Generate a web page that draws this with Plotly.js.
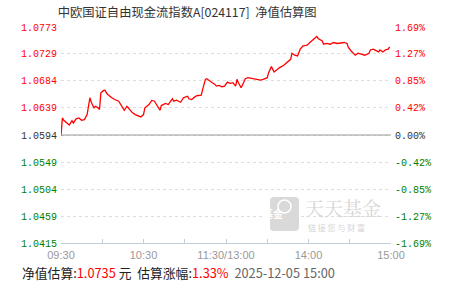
<!DOCTYPE html>
<html>
<head>
<meta charset="utf-8">
<script src="https://cdn.plot.ly/plotly-3.0.1.min.js"></script>
<style>
html,body{margin:0;padding:0;background:#fff;}
#chart{width:451px;height:281px;}
</style>
</head>
<body>
<div id="chart"></div>
<script>
// ---- data ----
const minutes = [0,1,2,4,6,8,9,11,13,15,17,19,20,21,22,24,25,27,28,29,31,32,33,34,37,39,42,44,46,48,50,52,54,56,58,60,61,64,66,68,70,72,73,76,78,81,82,84,87,89,92,93,95,98,100,102,103,105,106,108,110,112,113,115,117,119,121,123,125,127,128,129,131,133,134,136,139,141,145,147,150,151,153,155,157,159,162,164,167,168,170,172,174,176,179,181,184,186,187,190,191,193,196,198,201,203,206,208,209,211,213,214,216,219,221,224,225,227,230,231,232,234,236,238,239];
const nav = [1.05928,1.06223,1.06183,1.06140,1.06107,1.06178,1.06140,1.06207,1.06223,1.06183,1.06195,1.06278,1.06390,1.06557,1.06483,1.06390,1.06417,1.06390,1.06362,1.06640,1.06678,1.06683,1.06640,1.06612,1.06557,1.06528,1.06500,1.06417,1.06350,1.06417,1.06362,1.06307,1.06278,1.06262,1.06240,1.06278,1.06390,1.06445,1.06512,1.06500,1.06417,1.06350,1.06428,1.06462,1.06445,1.06540,1.06500,1.06517,1.06483,1.06557,1.06583,1.06540,1.06528,1.06583,1.06595,1.06600,1.06695,1.06862,1.06873,1.06833,1.06807,1.06778,1.06750,1.06762,1.06740,1.06750,1.06817,1.06795,1.06807,1.06750,1.06862,1.06807,1.06723,1.06817,1.06873,1.06890,1.06873,1.06862,1.06850,1.06862,1.06890,1.06973,1.07073,1.06983,1.07028,1.07057,1.07095,1.07140,1.07195,1.07295,1.07262,1.07250,1.07362,1.07417,1.07428,1.07473,1.07528,1.07573,1.07540,1.07500,1.07445,1.07457,1.07445,1.07473,1.07457,1.07462,1.07473,1.07457,1.07390,1.07333,1.07295,1.07262,1.07295,1.07278,1.07262,1.07295,1.07350,1.07362,1.07333,1.07317,1.07350,1.07317,1.07350,1.07362,1.07400];
const baseNav = 1.0594;
const navTicks = ['1.0773','1.0729','1.0684','1.0639','1.0594','1.0549','1.0504','1.0459','1.0415'];
const pctTicks = ['1.69%','1.27%','0.85%','0.42%','0.00%','-0.42%','-0.85%','-1.27%','-1.69%'];
const timeTickVals = [0,30,60,90,120,150,180,210,240];
const timeTickText = ['09:30','','10:30','','11:30/13:00','','14:00','','15:00'];
const estNav = '1.0735';
const estPct = '1.33%';
const stamp = '2025-12-05 15:00';
const titleText = '中欧国证自由现金流指数A[024117]\u00a0\u00a0净值估算图';

// ---- styling ----
const RED = '#ff0000', GREEN = '#008000', DARK = '#333333';
function colorFor(i){ const v = parseFloat(navTicks[i]); return v > baseNav ? RED : (v < baseNav ? GREEN : DARK); }
const navVals = navTicks.map(parseFloat);
const navText = navTicks.map((t,i)=>'<span style="color:'+colorFor(i)+'">'+t+'</span>');
const pctVals = navVals.map(v => (v/baseNav - 1)*100);
const pctText = pctTicks.map((t,i)=>'<span style="color:'+colorFor(i)+'">'+t+'</span>');

const trace = {
  x: minutes, y: nav, type: 'scatter', mode: 'lines',
  line: {color: RED, width: 1.3}, hoverinfo: 'skip', showlegend: false
};
const dummy = {x:[0], y:[0], yaxis:'y2', type:'scatter', mode:'markers', marker:{opacity:0}, hoverinfo:'skip', showlegend:false};

const px = v => (v-61)/330;     // pixel x -> paper
const py = v => (243-v)/216;    // pixel y -> paper

const layout = {
  width: 451, height: 281,
  margin: {l: 61, r: 60, t: 27, b: 38, pad: 0},
  paper_bgcolor: '#fff', plot_bgcolor: '#fff',
  font: {family: 'Liberation Mono, DejaVu Sans Mono, monospace', size: 10},
  showlegend: false,
  title: {text: titleText, x: 0.415, xanchor: 'center', y: 0.955, yanchor: 'middle',
          font: {family: 'Noto Sans CJK SC, sans-serif', size: 12.3, color: '#333'}},
  xaxis: {
    range: [0, 240], fixedrange: true,
    tickvals: timeTickVals, ticktext: timeTickText,
    ticks: 'inside', ticklen: 4, tickcolor: '#c3cedb', tickwidth: 1,
    showline: true, linecolor: '#c3cedb', linewidth: 1,
    showgrid: false, zeroline: false,
    tickfont: {family: 'Liberation Sans, Arial, sans-serif', size: 11, color: '#999'},
    ticklabelstandoff: 2
  },
  yaxis: {
    range: [navVals[8], navVals[0]], fixedrange: true,
    tickvals: navVals, ticktext: navText,
    showgrid: true, gridcolor: '#dddddd', gridwidth: 1, griddash: 'dot',
    zeroline: false, showline: false, ticks: '',
    tickfont: {family: 'Liberation Mono, monospace', size: 10},
    ticklabelstandoff: 3
  },
  yaxis2: {
    overlaying: 'y', side: 'right',
    range: [pctVals[8], pctVals[0]], fixedrange: true,
    tickvals: pctVals, ticktext: pctText,
    showgrid: false, zeroline: false, showline: false, ticks: '',
    tickfont: {family: 'Liberation Mono, monospace', size: 10},
    ticklabelstandoff: 3
  },
  shapes: [
    {type:'line', xref:'paper', yref:'y', x0:0, x1:1, y0:baseNav, y1:baseNav, line:{color:'#999', width:1.2}},
    // watermark logo
    {type:'path', xref:'paper', yref:'paper',
     path: 'M '+px(274)+' '+py(197)+' L '+px(295)+' '+py(197)+' Q '+px(299)+' '+py(197)+' '+px(299)+' '+py(201)+
           ' L '+px(299)+' '+py(227)+' Q '+px(299)+' '+py(231)+' '+px(295)+' '+py(231)+
           ' L '+px(274)+' '+py(231)+' Q '+px(270)+' '+py(231)+' '+px(270)+' '+py(227)+
           ' L '+px(270)+' '+py(201)+' Q '+px(270)+' '+py(197)+' '+px(274)+' '+py(197)+' Z',
     fillcolor:'#d9d9d9', line:{width:0}, layer:'below'},
    {type:'circle', xref:'paper', yref:'paper', x0:px(278), x1:px(291), y0:py(213), y1:py(200),
     fillcolor:'rgba(0,0,0,0)', line:{color:'#ffffff', width:1.5}, layer:'below'}
  ],
  annotations: [
    {xref:'paper', yref:'paper', x:px(284.5), y:py(223), text:'<b>基金</b>', showarrow:false,
     font:{family:'Noto Sans CJK SC', size:10, color:'#ffffff'}},
    {xref:'paper', yref:'paper', x:px(303), xanchor:'left', y:py(207), yanchor:'middle', text:'天天基金', showarrow:false,
     font:{family:'Noto Serif CJK SC, Noto Sans CJK SC', size:19, color:'#d6d6d6'}},
    {xref:'paper', yref:'paper', x:px(306), xanchor:'left', y:py(227), yanchor:'middle', text:'链 接 您 与 财 富', showarrow:false,
     font:{family:'Noto Sans CJK SC', size:8, color:'#d6d6d6'}},
    {xref:'paper', yref:'paper', x:px(20), xanchor:'left', y:py(272), yanchor:'middle', showarrow:false,
     text:'净值估算:<span style="color:#ff0000">'+estNav+'</span> 元\u00a0\u00a0估算涨幅:<span style="color:#ff0000">'+estPct+'</span>\u00a0\u00a0<span style="color:#666">'+stamp+'</span>',
     font:{family:'Noto Sans CJK SC, sans-serif', size:12.8, color:'#222'}}
  ]
};

Plotly.newPlot('chart', [trace, dummy], layout, {staticPlot: true, displayModeBar: false});
</script>
</body>
</html>
